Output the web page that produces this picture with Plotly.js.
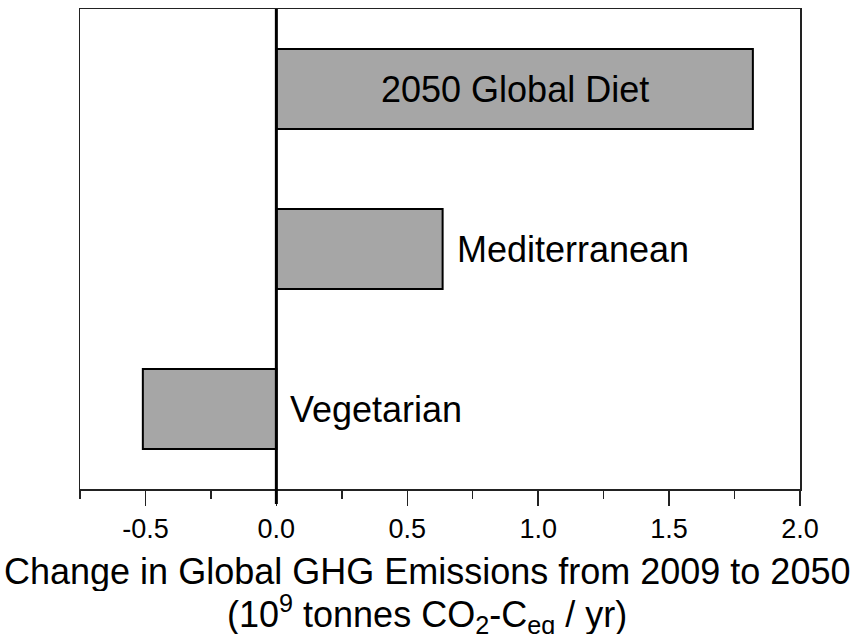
<!DOCTYPE html>
<html>
<head>
<meta charset="utf-8">
<script src="https://cdn.plot.ly/plotly-3.0.1.min.js"></script>
<style>html,body{margin:0;padding:0;background:#fff;}#chart{width:855px;height:641px;}</style>
</head>
<body>
<div id="chart"></div>
<script>
// Data
const categories = ['Vegetarian', 'Mediterranean', '2050 Global Diet'];
const values = [-0.51, 0.635, 1.82];
const tickValues = [-0.5, 0.0, 0.5, 1.0, 1.5, 2.0];
const tickLabels = ['-0.5', '0.0', '0.5', '1.0', '1.5', '2.0'];
const titleLine1 = 'Change in Global GHG Emissions from 2009 to 2050';
const titleLine2 = '(10<sup>9</sup> tonnes CO<sub>2</sub>-C<sub>eq</sub> / yr)';

const FONT = 'Liberation Sans, Arial, Helvetica, sans-serif';

const trace = {
  type: 'bar',
  orientation: 'h',
  x: values,
  y: categories,
  width: 0.5,
  marker: {color: '#a6a6a6', line: {color: '#000', width: 2}},
  hoverinfo: 'none'
};

// label annotations built from the data
const annotations = categories.map((c, i) => {
  const v = values[i];
  if (i === 2) {
    return {x: v / 2, y: c, xref: 'x', yref: 'y', text: c, showarrow: false,
            xanchor: 'center', yanchor: 'middle', font: {family: FONT, size: 36, color: '#000'}};
  }
  const base = Math.max(v, 0);
  return {x: base, y: c, xref: 'x', yref: 'y', text: c, showarrow: false,
          xanchor: 'left', yanchor: 'middle', xshift: 12, font: {family: FONT, size: 36, color: '#000'}};
});
annotations.push({x: 0.482, y: 0, xref: 'paper', yref: 'paper', yshift: -82, text: titleLine1,
  height: 40, valign: 'middle',
  showarrow: false, xanchor: 'center', yanchor: 'middle', font: {family: FONT, size: 36, color: '#000'}});
annotations.push({x: 0.482, y: 0, xref: 'paper', yref: 'paper', yshift: -125, text: titleLine2,
  height: 40, valign: 'middle',
  showarrow: false, xanchor: 'center', yanchor: 'middle', font: {family: FONT, size: 36, color: '#000'}});

const layout = {
  width: 855, height: 641,
  margin: {l: 80, r: 55, t: 9, b: 152, pad: 0},
  paper_bgcolor: '#fff', plot_bgcolor: '#fff',
  showlegend: false,
  font: {family: FONT, color: '#000'},
  xaxis: {
    range: [-0.75, 2.0],
    tickvals: tickValues, ticktext: tickLabels,
    ticks: 'outside', ticklen: 15, tickwidth: 1.5, tickcolor: '#222',
    minor: {dtick: 0.25, tick0: 0, ticks: 'outside', ticklen: 8, tickwidth: 1.5, tickcolor: '#222', showgrid: false},
    showline: true, linecolor: '#222', linewidth: 1.5, mirror: true,
    showgrid: false, zeroline: false,
    tickfont: {family: FONT, size: 27, color: '#000'}
  },
  yaxis: {
    range: [-0.5, 2.5],
    type: 'category', categoryarray: categories,
    showticklabels: false, ticks: '',
    showline: true, linecolor: '#222', linewidth: 1.5, mirror: true,
    showgrid: false, zeroline: false
  },
  shapes: [{type: 'line', xref: 'x', yref: 'paper', x0: 0, x1: 0, y0: -0.031, y1: 1.0,
            line: {color: '#000', width: 3}, layer: 'above'}],
  annotations: annotations
};

Plotly.newPlot('chart', [trace], layout, {displayModeBar: false, staticPlot: true});
</script>
</body>
</html>
